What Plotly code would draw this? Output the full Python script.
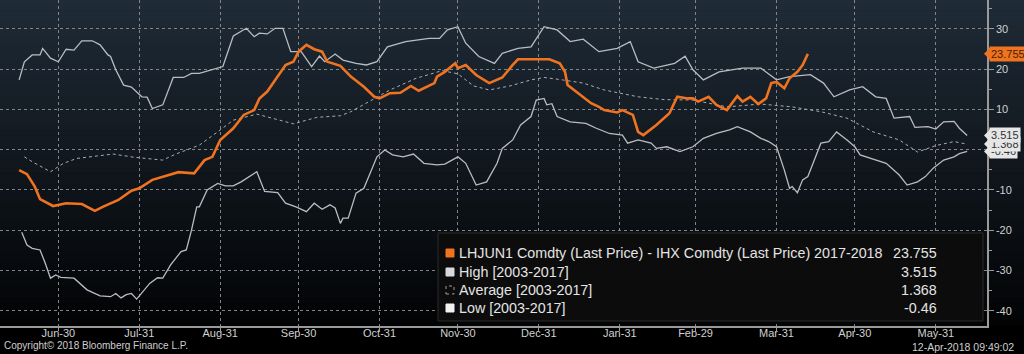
import plotly.graph_objects as go
import pandas as pd

# Seasonal (generic, leap) year axis: day offsets counted from Jun-30
BASE = "2015-06-30"

spread_days = [-15, -12, -9, -7, -2, 3, 9, 12, 14, 17, 23, 28, 31, 36, 42, 46, 52, 56, 59, 62,
               67, 71, 75, 77, 80, 84, 87, 90, 92, 95, 98, 101, 103, 108, 112, 117, 121, 123, 127, 131,
               135, 138, 142, 144, 145, 148, 152, 153, 156, 160, 165, 170, 174, 176, 183, 188, 192, 194, 195, 200,
               204, 207, 209, 214, 216, 220, 222, 224, 229, 234, 237, 241, 243, 245, 249, 252, 256, 260, 262, 265,
               268, 271, 273, 275, 278, 280, 283, 285, 287]
spread_vals = [-5.1, -6.1, -9.2, -12.3, -14.0, -13.3, -13.5, -14.6, -15.2, -14.2, -12.5, -10.2, -9.6, -7.5, -6.3,
               -5.6, -5.9, -2.6, -1.8, 2.4, 5.3, 8.6, 9.8, 12.7, 14.4, 18.1, 21.0, 21.8, 24.3, 26.0,
               24.9, 24.3, 21.8, 20.8, 18.1, 15.6, 13.1, 12.7, 14.0, 14.1, 15.8, 14.6, 15.8, 16.5, 18.1,
               19.3, 21.4, 20.2, 21.0, 18.5, 16.5, 17.9, 21.0, 22.4, 22.4, 22.4, 21.4, 19.3, 16.0, 13.5,
               11.5, 10.6, 9.8, 9.2, 9.8, 8.6, 4.4, 3.6, 6.1, 9.0, 13.1, 12.7, 12.7, 11.9, 13.1,
               11.1, 9.8, 13.3, 11.9, 13.1, 11.3, 12.7, 16.5, 16.8, 15.2, 17.7, 19.3, 21.0, 23.755]

high_days = [-15, -13, -10, -7, -6, -3, 0, 3, 6, 9, 13, 16, 19, 20, 22, 25, 28, 32, 34, 36,
             40, 44, 48, 51, 54, 59, 63, 67, 72, 75, 77, 80, 83, 86, 89, 93, 97, 100, 102, 106,
             109, 114, 118, 122, 126, 133, 142, 146, 149, 153, 156, 161, 167, 170, 176, 181, 186, 191, 196, 201,
             207, 214, 219, 222, 228, 236, 240, 243, 247, 253, 262, 269, 275, 280, 288, 293, 297, 303, 308, 313,
             317, 320, 326, 328, 333, 336, 339, 343, 345, 348]
high_vals = [17.3, 21.8, 23.5, 23.5, 25.1, 22.7, 21.8, 24.9, 24.7, 27.0, 27.0, 26.0, 23.5, 23.1, 19.8,
             16.0, 15.5, 13.1, 13.0, 10.2, 11.1, 17.9, 17.9, 18.9, 18.9, 19.8, 20.6, 28.2, 30.1, 28.0,
             28.9, 28.7, 30.1, 30.1, 24.3, 24.3, 20.6, 23.2, 21.8, 23.7, 22.2, 21.4, 21.0, 21.8, 25.5,
             26.8, 27.6, 27.6, 29.7, 30.5, 26.4, 23.1, 21.4, 23.9, 25.1, 25.5, 30.5, 29.7, 26.8, 27.4,
             24.3, 25.1, 26.8, 21.8, 20.2, 21.4, 23.2, 19.8, 17.3, 19.3, 20.2, 20.2, 17.3, 18.1, 18.6,
             16.5, 13.1, 14.8, 15.6, 13.1, 12.7, 7.8, 8.2, 5.5, 5.7, 5.1, 6.9, 7.0, 5.3, 3.515]

avg_days = [-13, -10, -3, 2, 7, 13, 21, 29, 40, 45, 54, 61, 67, 76, 82, 90, 99, 108, 112, 118,
            127, 137, 147, 153, 159, 165, 173, 181, 186, 193, 201, 209, 215, 222, 232, 243, 256, 269, 281, 292,
            302, 312, 322, 329, 336, 343, 346, 348]
avg_vals = [-1.8, -3.0, -5.5, -3.4, -2.2, -1.8, -1.1, -1.9, -2.6, -1.1, 1.1, 4.4, 7.3, 8.8, 7.8,
            6.4, 8.0, 8.4, 9.4, 11.5, 14.8, 17.7, 19.6, 18.8, 15.8, 14.8, 15.8, 17.3, 17.9, 17.3,
            16.5, 14.8, 14.1, 13.1, 12.4, 12.3, 10.6, 11.3, 10.6, 9.4, 7.8, 4.4, 2.4, -0.6, 1.0,
            2.0, 1.6, 1.368]

low_days = [-14, -12, -10, -7, -5, -3, -1, 1, 6, 11, 16, 20, 22, 24, 26, 28, 30, 33, 35, 38,
            40, 43, 47, 49, 51, 53, 54, 57, 61, 64, 67, 70, 75, 76, 79, 84, 87, 91, 95, 98,
            101, 104, 106, 108, 109, 111, 114, 117, 122, 125, 128, 132, 136, 140, 145, 148, 153, 156, 160, 164,
            168, 170, 174, 177, 181, 183, 186, 187, 189, 191, 196, 202, 206, 211, 216, 218, 222, 227, 229, 233,
            238, 243, 247, 252, 257, 260, 265, 269, 272, 275, 278, 280, 281, 283, 285, 287, 289, 292, 295, 298,
            302, 305, 307, 312, 317, 322, 325, 329, 332, 335, 339, 343, 345, 348]
low_vals = [-20.5, -23.7, -24.5, -24.9, -28.2, -31.9, -31.1, -31.7, -31.9, -34.8, -36.3, -36.5, -35.7, -36.8, -36.0,
            -35.7, -37.1, -34.8, -33.2, -31.8, -31.9, -28.6, -25.3, -24.9, -20.0, -14.2, -14.2, -10.0, -8.4, -9.0,
            -9.0, -8.0, -5.9, -5.5, -10.4, -10.7, -13.3, -14.2, -15.4, -13.3, -14.8, -13.7, -14.5, -18.3, -17.0,
            -17.0, -10.8, -9.6, -1.8, -0.1, -1.3, -1.8, -1.1, -3.4, -3.8, -3.6, -1.8, -3.4, -8.8, -8.0,
            -3.4, 0.3, 2.4, 6.1, 8.2, 12.3, 12.7, 11.1, 11.4, 8.2, 6.9, 6.5, 5.3, 4.0, 3.6,
            1.6, 2.4, 1.6, 0.3, 0.7, -0.5, 0.7, 2.8, 4.0, 4.9, 5.7, 4.4, 2.8, 2.0, 0.7,
            -5.1, -9.6, -9.2, -10.7, -7.5, -6.7, -3.4, 1.6, 2.0, 4.4, 2.4, 0.7, -1.3, -2.4, -3.4,
            -6.3, -8.8, -8.0, -6.7, -4.6, -2.6, -1.8, -1.0, -0.46]

tick_dates = ["2015-06-30", "2015-07-31", "2015-08-31", "2015-09-30", "2015-10-31", "2015-11-30",
              "2015-12-31", "2016-01-31", "2016-02-29", "2016-03-31", "2016-04-30", "2016-05-31"]
tick_text = ["Jun-30", "Jul-31", "Aug-31", "Sep-30", "Oct-31", "Nov-30",
             "Dec-31", "Jan-31", "Feb-29", "Mar-31", "Apr-30", "May-31"]

y_ticks = [30, 20, 10, 0, -10, -20, -30, -40]

legend_names = ["LHJUN1 Comdty (Last Price) - IHX Comdty (Last Price) 2017-2018",
                "High [2003-2017]", "Average [2003-2017]", "Low [2003-2017]"]

ORANGE = "#f07320"
LINE_GREY = "#b9bdc2"
AVG_GREY = "#a8adb3"


def to_dates(days):
    return pd.Timestamp(BASE) + pd.to_timedelta(days, unit="D")


W, H = 1024, 354
ML, MR, MT, MB = 0, 37, 0, 28
PW, PH = W - ML - MR, H - MT - MB
Y_RANGE = [-43.77, 37.12]
UNITS_PER_PX = (Y_RANGE[1] - Y_RANGE[0]) / PH


def px(x):
    return (x - ML) / PW


def py(y):
    return 1 - (y - MT) / PH


fig = go.Figure()
fig.add_trace(go.Scatter(x=to_dates(high_days), y=high_vals, mode="lines",
                         line=dict(color=LINE_GREY, width=1.3), hoverinfo="skip"))
fig.add_trace(go.Scatter(x=to_dates(low_days), y=low_vals, mode="lines",
                         line=dict(color=LINE_GREY, width=1.3), hoverinfo="skip"))
fig.add_trace(go.Scatter(x=to_dates(avg_days), y=avg_vals, mode="lines",
                         line=dict(color=AVG_GREY, width=1, dash="dot"), hoverinfo="skip"))
fig.add_trace(go.Scatter(x=to_dates(spread_days), y=spread_vals, mode="lines",
                         line=dict(color=ORANGE, width=2.6), hoverinfo="skip"))

shapes = []
# vertical background gradient (dark slate top -> black bottom)
N = 60
top = (31, 43, 55)
bot = (2, 3, 4)
for i in range(N):
    t = (i + 0.5) / N
    c = tuple(int(round(top[k] + (bot[k] - top[k]) * t)) for k in range(3))
    shapes.append(dict(type="rect", xref="paper", yref="paper", x0=0, x1=W / PW,
                       y0=1 - (i + 1) / N, y1=1 - i / N + 0.002, layer="below",
                       line=dict(width=0), fillcolor="rgb(%d,%d,%d)" % c))

# legend box
shapes.append(dict(type="rect", xref="paper", yref="paper", x0=px(438), x1=px(983),
                   y0=py(321), y1=py(233), line=dict(color="#2b2b2b", width=1),
                   fillcolor="#0c0c0c", layer="above"))

rows_y = [253, 272, 290, 308]
sq_fill = [ORANGE, "#d9d9d9", "rgba(0,0,0,0)", "#f2f2f2"]
sq_line = [ORANGE, "#d9d9d9", "#9a9a9a", "#f2f2f2"]
sq_dash = ["solid", "solid", "dot", "solid"]
for i, yy in enumerate(rows_y):
    shapes.append(dict(type="rect", xref="paper", yref="paper", x0=px(446), x1=px(454),
                       y0=py(yy + 4), y1=py(yy - 4), fillcolor=sq_fill[i],
                       line=dict(color=sq_line[i], width=1, dash=sq_dash[i]), layer="above"))

last_vals = [spread_vals[-1], high_vals[-1], avg_vals[-1], low_vals[-1]]
val_text = ["23.755", "3.515", "1.368", "-0.46"]

# right-axis value tags (pointer + label)
tag_bg = [ORANGE, "#e6e6e6", "#e6e6e6", "#e6e6e6"]
tag_fg = ["#4a1e00", "#333333", "#333333", "#333333"]
order = [3, 2, 1, 0]
half = 6 * UNITS_PER_PX
annotations = []
for i in order:
    v = last_vals[i]
    shapes.append(dict(type="path", xref="paper", yref="y",
                       path="M %f,%f L %f,%f L %f,%f Z" % (px(984), v, px(990), v + half, px(990), v - half),
                       fillcolor=tag_bg[i], line=dict(width=0), layer="above"))

for i, yy in enumerate(rows_y):
    annotations.append(dict(xref="paper", yref="paper", x=px(457), y=py(yy), xanchor="left",
                            yanchor="middle", text=legend_names[i], showarrow=False,
                            font=dict(family="Liberation Sans, Arial", size=14.3, color="#e4e4e4")))
    annotations.append(dict(xref="paper", yref="paper", x=px(939), y=py(yy), xanchor="right",
                            yanchor="middle", text=val_text[i], showarrow=False,
                            font=dict(family="Liberation Sans, Arial", size=14.3, color="#e4e4e4")))

for i in order:
    annotations.append(dict(xref="paper", yref="y", x=px(989), y=last_vals[i], xanchor="left",
                            yanchor="middle", text=val_text[i], showarrow=False,
                            bgcolor=tag_bg[i], borderpad=1,
                            font=dict(family="Liberation Sans, Arial", size=11, color=tag_fg[i])))

annotations.append(dict(xref="paper", yref="paper", x=px(2), y=py(345), xanchor="left",
                        yanchor="middle", text="Copyright© 2018 Bloomberg Finance L.P.",
                        showarrow=False,
                        font=dict(family="Liberation Sans, Arial", size=10, color="#cfcfcf")))
annotations.append(dict(xref="paper", yref="paper", x=px(1016), y=py(347), xanchor="right",
                        yanchor="middle", text="12-Apr-2018 09:49:02", showarrow=False,
                        font=dict(family="Liberation Sans, Arial", size=10.5, color="#cfcfcf")))

x0 = pd.Timestamp(BASE) + pd.Timedelta(days=-22.33)
x1 = pd.Timestamp(BASE) + pd.Timedelta(days=355.6)

fig.update_layout(
    width=W, height=H,
    margin=dict(l=ML, r=MR, t=MT, b=MB, pad=0),
    paper_bgcolor="#000000",
    plot_bgcolor="rgba(0,0,0,0)",
    showlegend=False,
    shapes=shapes,
    annotations=annotations,
    xaxis=dict(range=[x0, x1], type="date", tickvals=pd.to_datetime(tick_dates), ticktext=tick_text,
               showgrid=True, gridcolor="#80858b", griddash="dot", gridwidth=1,
               showline=True, linecolor="#9a9a9a", linewidth=1.5,
               ticks="outside", ticklen=3, tickcolor="#9a9a9a", ticklabelstandoff=-7,
               tickfont=dict(family="Liberation Sans, Arial", size=11, color="#d0d0d0"),
               zeroline=False, fixedrange=True),
    yaxis=dict(range=Y_RANGE, side="right", tickvals=y_ticks,
               ticktext=[str(v) for v in y_ticks],
               showgrid=True, gridcolor="#80858b", griddash="dot", gridwidth=1,
               showline=True, linecolor="#9a9a9a", linewidth=1.5,
               ticks="outside", ticklen=5, tickcolor="#9a9a9a",
               minor=dict(dtick=5, tick0=0, ticks="outside", ticklen=3, tickcolor="#9a9a9a", showgrid=False),
               tickfont=dict(family="Liberation Sans, Arial", size=11, color="#d0d0d0"),
               zeroline=False, fixedrange=True),
)

fig.write_html("out.html")
